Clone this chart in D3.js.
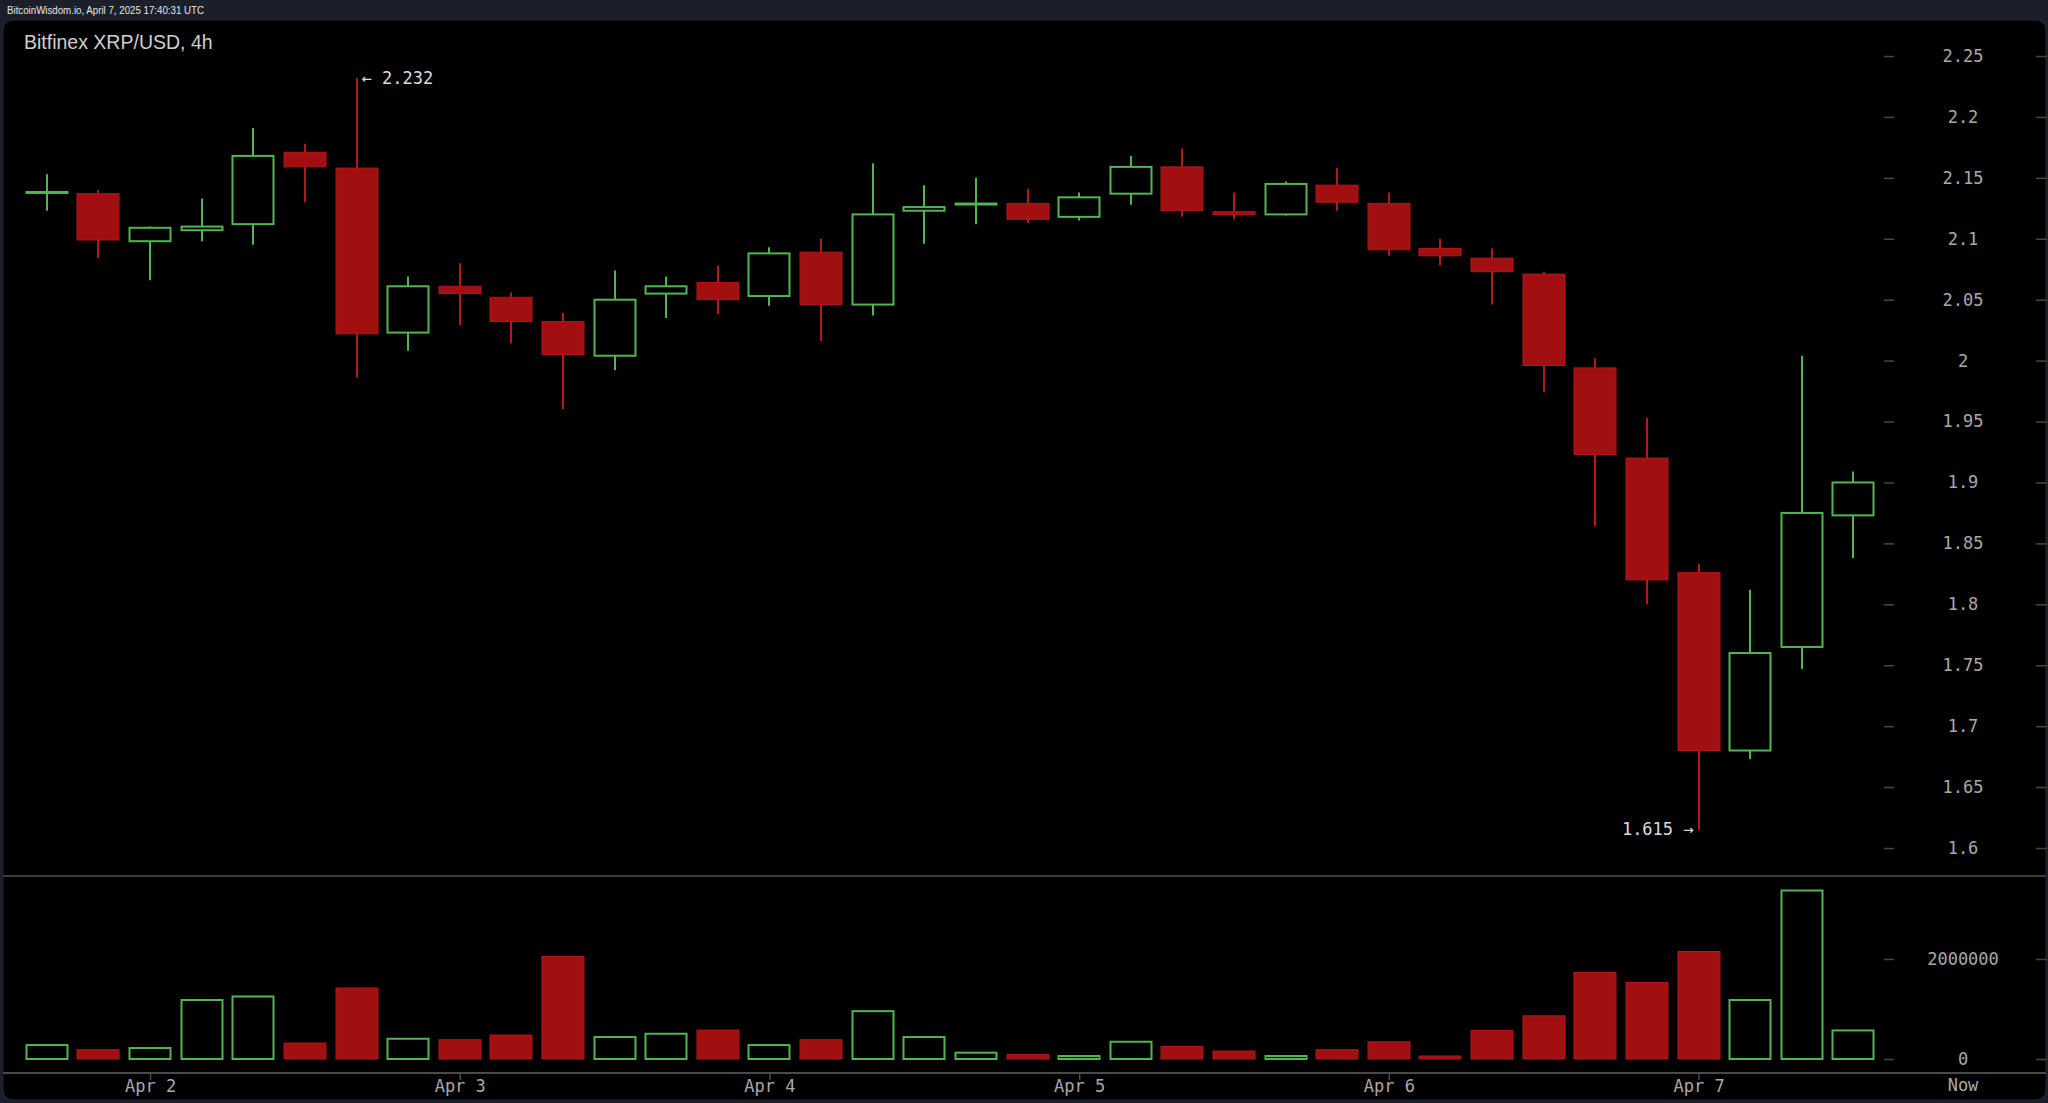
<!DOCTYPE html>
<html>
<head>
<meta charset="utf-8">
<script src="https://cdn.jsdelivr.net/npm/d3@7"></script>
<style>
  html, body { margin: 0; padding: 0; background: #1b1f2a; }
  svg { display: block; }
</style>
</head>
<body>
<svg id="chart" width="2048" height="1103"></svg>
<script>
// ---------- DATA ----------
const times = [
  "2025-04-01T16:00Z","2025-04-01T20:00Z",
  "2025-04-02T00:00Z","2025-04-02T04:00Z","2025-04-02T08:00Z","2025-04-02T12:00Z","2025-04-02T16:00Z","2025-04-02T20:00Z",
  "2025-04-03T00:00Z","2025-04-03T04:00Z","2025-04-03T08:00Z","2025-04-03T12:00Z","2025-04-03T16:00Z","2025-04-03T20:00Z",
  "2025-04-04T00:00Z","2025-04-04T04:00Z","2025-04-04T08:00Z","2025-04-04T12:00Z","2025-04-04T16:00Z","2025-04-04T20:00Z",
  "2025-04-05T00:00Z","2025-04-05T04:00Z","2025-04-05T08:00Z","2025-04-05T12:00Z","2025-04-05T16:00Z","2025-04-05T20:00Z",
  "2025-04-06T00:00Z","2025-04-06T04:00Z","2025-04-06T08:00Z","2025-04-06T12:00Z","2025-04-06T16:00Z","2025-04-06T20:00Z",
  "2025-04-07T00:00Z","2025-04-07T04:00Z","2025-04-07T08:00Z","2025-04-07T12:00Z"
];
const open  = [2.137,2.137,2.098,2.107,2.112,2.171,2.158,2.023,2.061,2.052,2.032,2.004,2.055,2.064,2.053,2.089,2.046,2.123,2.128,2.129,2.118,2.137,2.159,2.122,2.120,2.144,2.129,2.092,2.084,2.071,1.994,1.920,1.826,1.680,1.765,1.873];
const high  = [2.153,2.140,2.110,2.133,2.191,2.178,2.232,2.069,2.080,2.056,2.039,2.074,2.069,2.078,2.093,2.100,2.162,2.144,2.150,2.141,2.138,2.168,2.174,2.138,2.147,2.158,2.138,2.100,2.092,2.073,2.002,1.953,1.833,1.812,2.004,1.909];
const low   = [2.123,2.084,2.066,2.098,2.095,2.130,1.986,2.008,2.029,2.014,1.960,1.992,2.035,2.038,2.045,2.016,2.037,2.096,2.112,2.113,2.115,2.128,2.118,2.116,2.119,2.123,2.086,2.078,2.046,1.974,1.864,1.800,1.615,1.673,1.747,1.838];
const close = [2.139,2.099,2.109,2.110,2.168,2.159,2.022,2.061,2.055,2.032,2.005,2.050,2.061,2.050,2.088,2.046,2.120,2.126,2.129,2.116,2.134,2.159,2.123,2.120,2.145,2.130,2.091,2.086,2.073,1.996,1.923,1.820,1.680,1.760,1.875,1.900];
const volume = [279000,186000,219000,1180000,1250000,319000,1420000,405000,385000,478000,2050000,439000,505000,578000,279000,385000,957000,439000,126000,93000,60000,345000,252000,160000,60000,186000,345000,60000,571000,864000,1730000,1530000,2150000,1180000,3370000,571000];

const priceTicks = [1.6,1.65,1.7,1.75,1.8,1.85,1.9,1.95,2,2.05,2.1,2.15,2.2,2.25];
const volumeTicks = [0, 2000000];
const dayTicks = ["2025-04-02T00:00Z","2025-04-03T00:00Z","2025-04-04T00:00Z","2025-04-05T00:00Z","2025-04-06T00:00Z","2025-04-07T00:00Z"];
const dayLabels = ["Apr 2","Apr 3","Apr 4","Apr 5","Apr 6","Apr 7"];
const nowLabel = "Now";
const headerText = "BitcoinWisdom.io, April 7, 2025 17:40:31 UTC";
const titleText = "Bitfinex XRP/USD, 4h";
const highLabel = "\u2190 2.232";
const lowLabel = "1.615 \u2192";

// ---------- LAYOUT ----------
const W = 2048, H = 1103;
const RED = "#a10f10", RED_STROKE = "#b3191a", GREEN = "#52b552";
const AXIS_TXT = "#a9a9a9";
const MONO = "'DejaVu Sans Mono', monospace";

const svg = d3.select("#chart");

// background / header
svg.append("rect").attr("x",0).attr("y",0).attr("width",W).attr("height",H).attr("fill","#1b1f2a");
svg.append("text").attr("x",7).attr("y",14)
  .attr("font-family","'Liberation Sans', Arial, sans-serif").attr("font-size",10.5)
  .attr("fill","#e6e6e6").attr("textLength",197).attr("lengthAdjust","spacingAndGlyphs")
  .text(headerText);

// panel
svg.append("rect").attr("x",3).attr("y",20).attr("width",2043).attr("height",1080)
  .attr("rx",10).attr("ry",10).attr("fill","#000").attr("stroke","#23272f").attr("stroke-width",1);

svg.append("text").attr("x",24).attr("y",49)
  .attr("font-family","'Liberation Sans', Arial, sans-serif").attr("font-size",19.5)
  .attr("fill","#cfcfcf").text(titleText);

// ---------- SCALES ----------
const parse = s => new Date(s);
const x = d3.scaleTime()
  .domain([parse(times[0]), parse(times[times.length-1])])
  .range([46.8, 1853.4]);
const y = d3.scaleLinear().domain([1.6, 2.25]).range([848, 56]);
const yv = d3.scaleLinear().domain([0, 2000000]).range([1059, 959]);
const BW = 43;

const data = times.map((t,i) => ({t: parse(t), o: open[i], h: high[i], l: low[i], c: close[i], v: volume[i]}));

// separator lines
svg.append("line").attr("x1",3).attr("x2",2046).attr("y1",876).attr("y2",876)
  .attr("stroke","#3c3c3c").attr("stroke-width",2);

// ---------- PRICE AXIS ----------
const yAxis = d3.axisRight(y).tickValues(priceTicks).tickSize(10).tickFormat(d => String(+d.toFixed(2)));
const gy = svg.append("g").attr("transform","translate(1884,0)").call(yAxis);
gy.select(".domain").remove();
gy.selectAll(".tick line").attr("stroke","#474747").attr("stroke-width",1.5);
gy.selectAll(".tick text").attr("x",79).attr("text-anchor","middle")
  .attr("font-family",MONO).attr("font-size",17).attr("fill",AXIS_TXT);
gy.selectAll(".tick").append("line").attr("x1",152).attr("x2",163)
  .attr("stroke","#474747").attr("stroke-width",1.5);

// ---------- VOLUME AXIS ----------
const vAxis = d3.axisRight(yv).tickValues(volumeTicks).tickSize(10).tickFormat(d => String(d));
const gv = svg.append("g").attr("transform","translate(1884,0)").call(vAxis);
gv.select(".domain").remove();
gv.selectAll(".tick line").attr("stroke","#474747").attr("stroke-width",1.5);
gv.selectAll(".tick text").attr("x",79).attr("text-anchor","middle")
  .attr("font-family",MONO).attr("font-size",17).attr("fill",AXIS_TXT);
gv.selectAll(".tick").append("line").attr("x1",152).attr("x2",163)
  .attr("stroke","#474747").attr("stroke-width",1.5);

// ---------- TIME AXIS ----------
svg.append("line").attr("x1",3).attr("x2",2046).attr("y1",1073).attr("y2",1073)
  .attr("stroke","#4a4a4a").attr("stroke-width",2);
const xAxis = d3.axisBottom(x).tickValues(dayTicks.map(parse)).tickSize(7).tickPadding(0)
  .tickFormat((d,i) => dayLabels[i]);
const gx = svg.append("g").attr("transform","translate(0,1073)").call(xAxis);
gx.select(".domain").remove();
gx.selectAll(".tick line").attr("stroke","#4a4a4a").attr("stroke-width",1.5);
gx.selectAll(".tick text").attr("font-family",MONO).attr("font-size",17).attr("fill",AXIS_TXT);
svg.append("text").attr("x",1963).attr("y",1091).attr("text-anchor","middle")
  .attr("font-family",MONO).attr("font-size",17).attr("fill",AXIS_TXT).text(nowLabel);

// ---------- CANDLES ----------
const gc = svg.append("g");
data.forEach(d => {
  const cx = Math.round(x(d.t));
  const up = d.c >= d.o;
  const top = y(Math.max(d.o, d.c)), bot = y(Math.min(d.o, d.c));
  const col = up ? GREEN : RED;
  if (up) {
    gc.append("line").attr("x1",cx).attr("x2",cx).attr("y1",y(d.h)).attr("y2",top)
      .attr("stroke",col).attr("stroke-width",2);
    gc.append("line").attr("x1",cx).attr("x2",cx).attr("y1",bot).attr("y2",y(d.l))
      .attr("stroke",col).attr("stroke-width",2);
    const hgt = Math.max(bot - top, 1);
    if (hgt < 3) {
      gc.append("rect").attr("x",cx - BW/2).attr("y",(top+bot)/2 - 1.5).attr("width",BW).attr("height",3)
        .attr("fill",col);
    } else {
      gc.append("rect").attr("x",cx - BW/2 + 1).attr("y",top).attr("width",BW - 2).attr("height",hgt)
        .attr("fill","#000").attr("stroke",col).attr("stroke-width",2);
    }
  } else {
    gc.append("line").attr("x1",cx).attr("x2",cx).attr("y1",y(d.h)).attr("y2",y(d.l))
      .attr("stroke",RED_STROKE).attr("stroke-width",2);
    const hgt = Math.max(bot - top, 3);
    gc.append("rect").attr("x",cx - BW/2 + 0.5).attr("y",(top+bot)/2 - hgt/2).attr("width",BW - 1).attr("height",hgt)
      .attr("fill",RED).attr("stroke",RED_STROKE).attr("stroke-width",1);
  }
});

// ---------- VOLUME BARS ----------
const gvb = svg.append("g");
data.forEach(d => {
  const cx = Math.round(x(d.t));
  const up = d.c >= d.o;
  const top = yv(d.v), base = yv(0);
  if (up) {
    gvb.append("rect").attr("x",cx - BW/2 + 1).attr("y",top).attr("width",BW - 2).attr("height",Math.max(base - top, 1))
      .attr("fill","#000").attr("stroke",GREEN).attr("stroke-width",2);
  } else {
    gvb.append("rect").attr("x",cx - BW/2 + 0.5).attr("y",top).attr("width",BW - 1).attr("height",Math.max(base - top, 2))
      .attr("fill",RED).attr("stroke",RED_STROKE).attr("stroke-width",1);
  }
});

// ---------- HIGH / LOW ANNOTATIONS ----------
const iHigh = high.indexOf(d3.max(high));
const iLow = low.indexOf(d3.min(low));
svg.append("text").attr("x",x(data[iHigh].t) + 5).attr("y",y(high[iHigh]) + 6)
  .attr("font-family",MONO).attr("font-size",17).attr("fill","#dcdcdc").text(highLabel);
svg.append("text").attr("x",x(data[iLow].t) - 5).attr("y",y(low[iLow]) + 5)
  .attr("text-anchor","end")
  .attr("font-family",MONO).attr("font-size",17).attr("fill","#dcdcdc").text(lowLabel);
</script>
</body>
</html>
